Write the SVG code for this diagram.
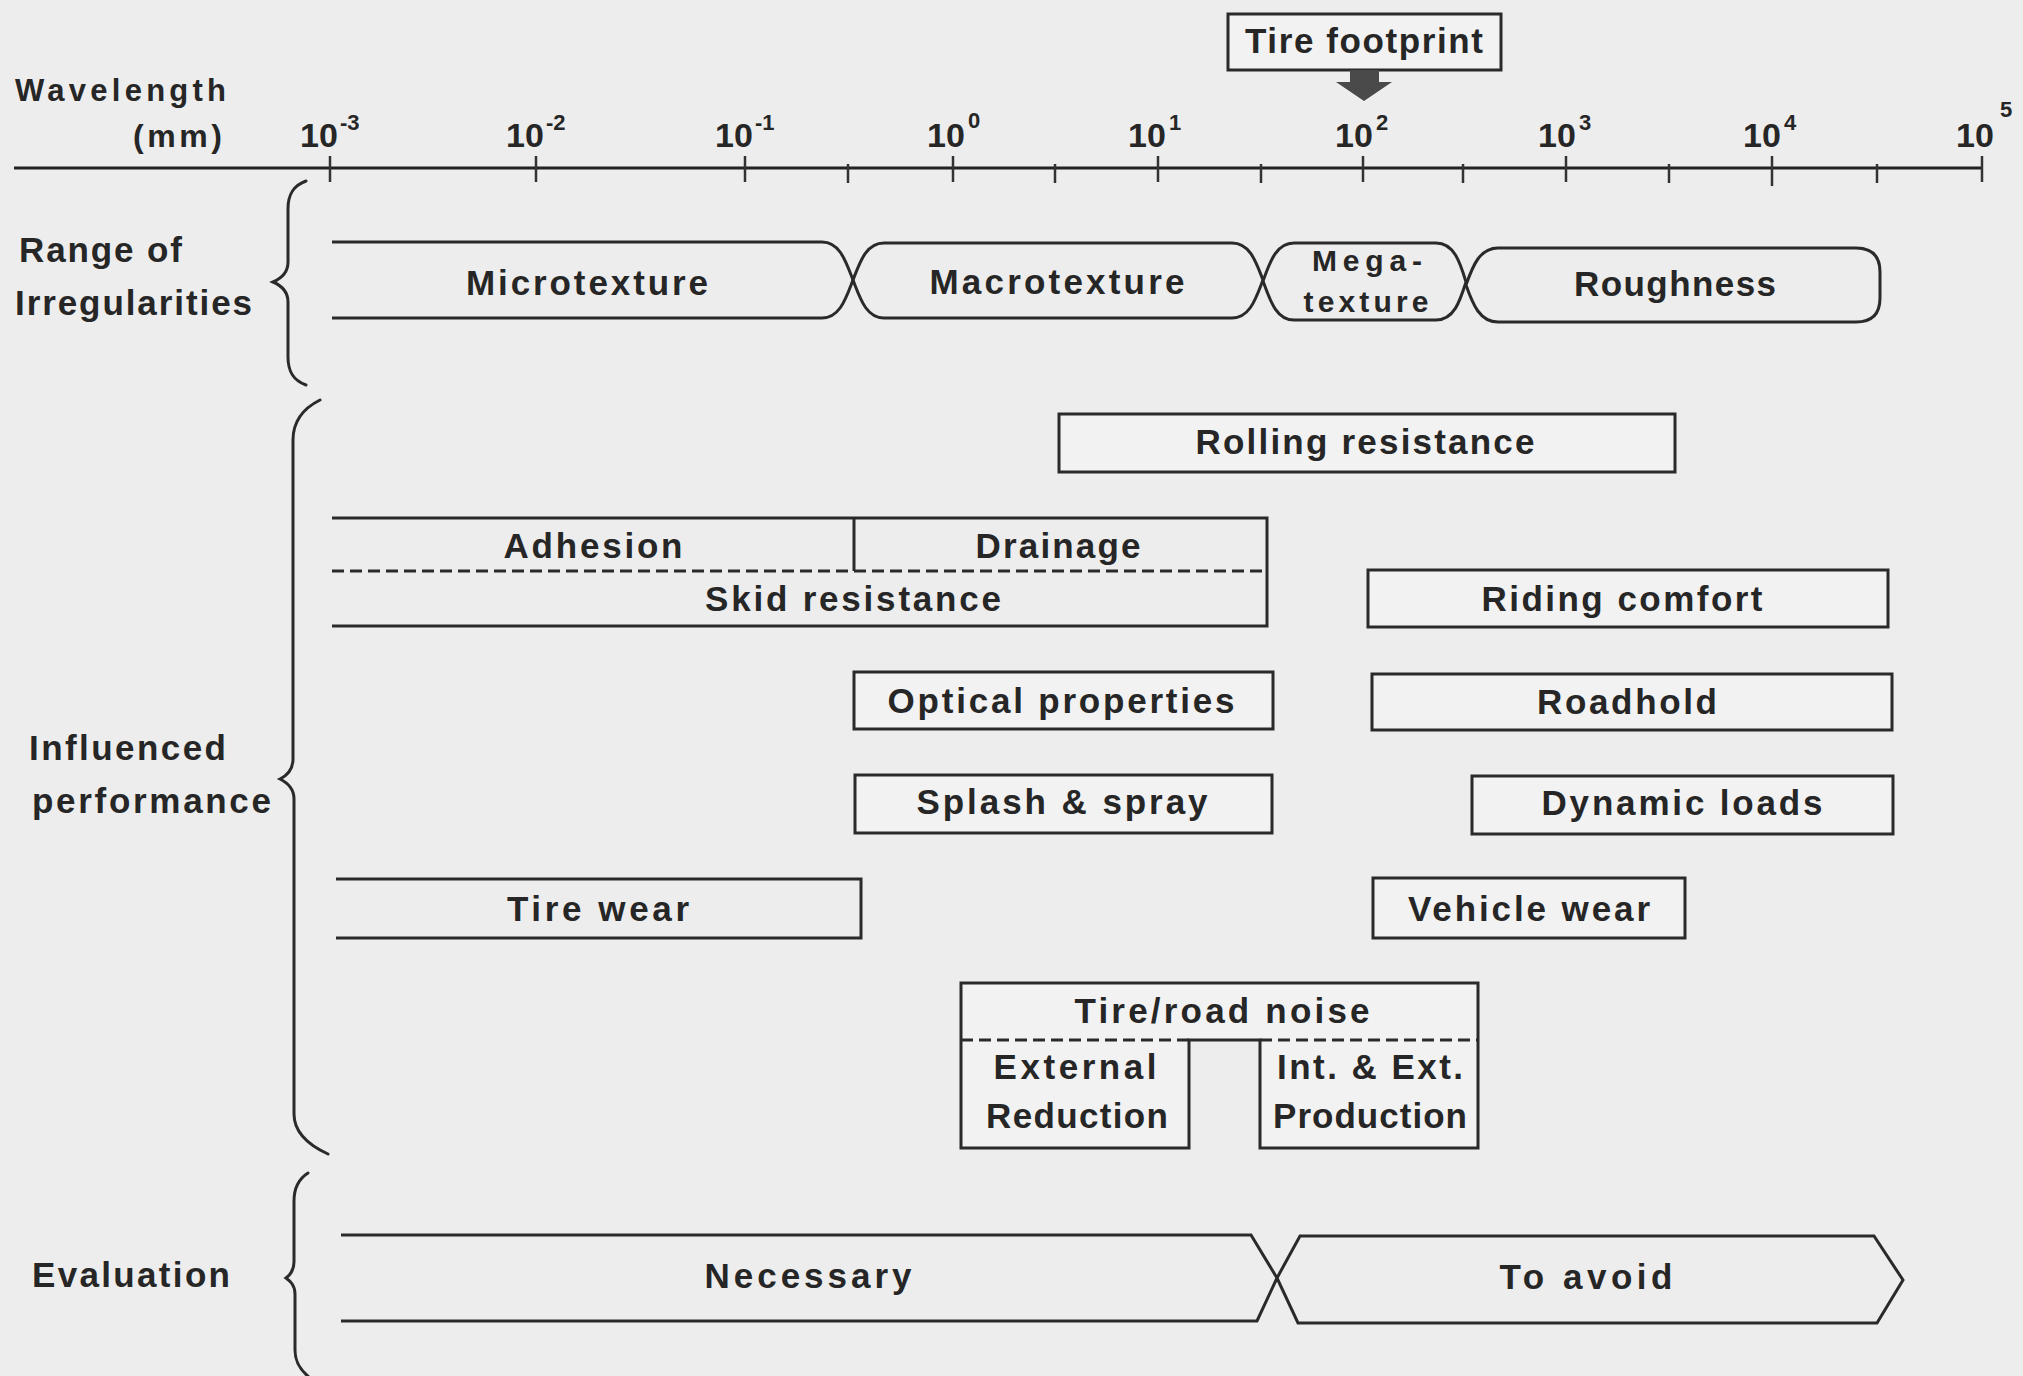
<svg xmlns="http://www.w3.org/2000/svg" width="2023" height="1376" viewBox="0 0 2023 1376">
<defs>
<style>
.bg{fill:#ededed}
.box{fill:#f2f2f2;stroke:#2a2a2a;stroke-width:3}
.open{fill:none;stroke:#2a2a2a;stroke-width:3}
.dash{fill:none;stroke:#2a2a2a;stroke-width:3;stroke-dasharray:12 6}
.brace{fill:none;stroke:#2a2a2a;stroke-width:3;stroke-linecap:round}
.axis{stroke:#222;stroke-width:3}
.tick{stroke:#333;stroke-width:2.5}
.t{font-family:"Liberation Sans",Arial,sans-serif;font-weight:bold;font-size:35px;fill:#262626;text-anchor:middle}
.l{font-family:"Liberation Sans",Arial,sans-serif;font-weight:bold;font-size:35px;fill:#262626;text-anchor:start}
.num{font-family:"Liberation Sans",Arial,sans-serif;font-weight:bold;font-size:34px;fill:#262626}
.sup{font-family:"Liberation Sans",Arial,sans-serif;font-weight:bold;font-size:22px;fill:#262626}
</style>
</defs>
<rect class="bg" x="0" y="0" width="2023" height="1376"/>

<g id="axis">
<line class="axis" x1="14" y1="168" x2="1982" y2="168"/>
<g class="tick">
<line x1="330" y1="156" x2="330" y2="182"/>
<line x1="536" y1="156" x2="536" y2="182"/>
<line x1="745" y1="156" x2="745" y2="182"/>
<line x1="953" y1="156" x2="953" y2="182"/>
<line x1="1158" y1="156" x2="1158" y2="182"/>
<line x1="1363" y1="156" x2="1363" y2="182"/>
<line x1="1566" y1="156" x2="1566" y2="182"/>
<line x1="1772" y1="156" x2="1772" y2="186"/>
<line x1="1982" y1="156" x2="1982" y2="182"/>
<line x1="848" y1="164" x2="848" y2="183"/>
<line x1="1055" y1="164" x2="1055" y2="183"/>
<line x1="1261" y1="164" x2="1261" y2="183"/>
<line x1="1463" y1="164" x2="1463" y2="183"/>
<line x1="1669" y1="164" x2="1669" y2="183"/>
<line x1="1877" y1="164" x2="1877" y2="183"/>
</g>
<text class="l" x="15" y="101" style="font-size:31px" textLength="211" lengthAdjust="spacing">Wavelength</text>
<text class="l" x="133" y="147" style="font-size:32px" textLength="89" lengthAdjust="spacing">(mm)</text>
<text class="num" x="300" y="147">10</text><text class="sup" x="340" y="130">-3</text>
<text class="num" x="506" y="147">10</text><text class="sup" x="546" y="130">-2</text>
<text class="num" x="715" y="147">10</text><text class="sup" x="755" y="130">-1</text>
<text class="num" x="927" y="147">10</text><text class="sup" x="968" y="128">0</text>
<text class="num" x="1128" y="147">10</text><text class="sup" x="1169" y="130">1</text>
<text class="num" x="1335" y="147">10</text><text class="sup" x="1376" y="130">2</text>
<text class="num" x="1538" y="147">10</text><text class="sup" x="1579" y="130">3</text>
<text class="num" x="1743" y="147">10</text><text class="sup" x="1784" y="130">4</text>
<text class="num" x="1956" y="147">10</text><text class="sup" x="2000" y="117">5</text>
</g>

<g id="tire-footprint">
<rect class="box" x="1228" y="14" width="273" height="56"/>
<text class="t" x="1364" y="53" textLength="238" lengthAdjust="spacing">Tire footprint</text>
</g>

<g id="label-range">
<text class="l" x="19" y="262" textLength="163" lengthAdjust="spacing">Range of</text>
<text class="l" x="15" y="315" textLength="237" lengthAdjust="spacing">Irregularities</text>
</g>
<g id="label-performance">
<text class="l" x="29" y="760" textLength="197" lengthAdjust="spacing">Influenced</text>
<text class="l" x="32" y="813" textLength="239" lengthAdjust="spacing">performance</text>
</g>
<g id="label-evaluation">
<text class="l" x="32" y="1287" textLength="198" lengthAdjust="spacing">Evaluation</text>
</g>

<g id="braces">
<path class="brace" d="M306,181 C292,186 288,196 288,209 L288,262 C288,274 280,279 273,282 C280,285 288,290 288,302 L288,357 C288,370 292,380 306,385"/>
<path class="brace" d="M320,400 C300,410 293,424 293,440 L293,759 C293,771 286,776 280,779 C286,782 294,787 294,799 L294,1114 C294,1130 304,1143 328,1154"/>
<path class="brace" d="M308,1173 C297,1180 294,1190 294,1201 L294,1262 C294,1271 290,1275 286,1278 C290,1281 295,1285 295,1294 L295,1350 C295,1362 300,1370 310,1378"/>
</g>

<g id="microtexture">
<path class="open" d="M332,242 H822 C840,242 846,262 853,280 C846,298 840,318 822,318 H332"/>
<text class="t" x="587" y="295" textLength="242" lengthAdjust="spacing">Microtexture</text>
</g>
<g id="macrotexture">
<path class="open" d="M853,280 C860,262 866,243 884,243 H1232 C1250,243 1256,262 1263,280 C1256,298 1250,318 1232,318 H884 C866,318 860,298 853,280 Z"/>
<text class="t" x="1057" y="294" textLength="255" lengthAdjust="spacing">Macrotexture</text>
</g>
<g id="megatexture">
<path class="open" d="M1263,281 C1270,262 1276,243 1294,243 H1436 C1454,243 1460,262 1466,282 C1460,301 1454,320 1436,320 H1294 C1276,320 1270,300 1263,281 Z"/>
<text class="t" x="1367" y="271" style="font-size:30px" textLength="110" lengthAdjust="spacing">Mega-</text>
<text class="t" x="1366" y="312" style="font-size:30px" textLength="125" lengthAdjust="spacing">texture</text>
</g>
<g id="roughness">
<path class="open" d="M1466,285 C1473,265 1480,248 1498,248 H1856 Q1880,248 1880,272 V298 Q1880,322 1856,322 H1498 C1480,322 1473,305 1466,285 Z"/>
<text class="t" x="1675" y="296" textLength="202" lengthAdjust="spacing">Roughness</text>
</g>

<g id="rolling-resistance">
<rect class="box" x="1059" y="414" width="616" height="58"/>
<text class="t" x="1365" y="454" textLength="339" lengthAdjust="spacing">Rolling resistance</text>
</g>

<g id="skid-resistance">
<path class="open" d="M332,518 H1267 V626 H332"/>
<path class="dash" d="M332,571 H1267"/>
<text class="t" x="853" y="611" textLength="296" lengthAdjust="spacing">Skid resistance</text>
</g>
<g id="adhesion">
<path class="open" d="M854,518 V571"/>
<text class="t" x="593" y="558" textLength="179" lengthAdjust="spacing">Adhesion</text>
</g>
<g id="drainage">
<text class="t" x="1058" y="558" textLength="165" lengthAdjust="spacing">Drainage</text>
</g>

<g id="riding-comfort">
<rect class="box" x="1368" y="570" width="520" height="57"/>
<text class="t" x="1622" y="611" textLength="281" lengthAdjust="spacing">Riding comfort</text>
</g>
<g id="optical-properties">
<rect class="box" x="854" y="672" width="419" height="57"/>
<text class="t" x="1061" y="713" textLength="347" lengthAdjust="spacing">Optical properties</text>
</g>
<g id="roadhold">
<rect class="box" x="1372" y="674" width="520" height="56"/>
<text class="t" x="1627" y="714" textLength="180" lengthAdjust="spacing">Roadhold</text>
</g>
<g id="splash-spray">
<rect class="box" x="855" y="775" width="417" height="58"/>
<text class="t" x="1062" y="814" textLength="291" lengthAdjust="spacing">Splash &amp; spray</text>
</g>
<g id="dynamic-loads">
<rect class="box" x="1472" y="776" width="421" height="58"/>
<text class="t" x="1682" y="815" textLength="281" lengthAdjust="spacing">Dynamic loads</text>
</g>
<g id="tire-wear">
<path class="open" d="M336,879 H861 V938 H336"/>
<text class="t" x="598" y="921" textLength="182" lengthAdjust="spacing">Tire wear</text>
</g>
<g id="vehicle-wear">
<rect class="box" x="1373" y="878" width="312" height="60"/>
<text class="t" x="1529" y="921" textLength="242" lengthAdjust="spacing">Vehicle wear</text>
</g>

<g id="tire-road-noise">
<path class="box" d="M961,983 H1478 V1148 H1260 V1040 H1189 V1148 H961 Z"/>
<path class="dash" d="M961,1040 H1189 M1260,1040 H1478"/>
<text class="t" x="1222" y="1023" textLength="295" lengthAdjust="spacing">Tire/road noise</text>
</g>
<g id="external-reduction">
<text class="t" x="1075" y="1079" textLength="163" lengthAdjust="spacing">External</text>
<text class="t" x="1077" y="1128" textLength="182" lengthAdjust="spacing">Reduction</text>
</g>
<g id="int-ext-production">
<text class="t" x="1370" y="1079" textLength="186" lengthAdjust="spacing">Int. &amp; Ext.</text>
<text class="t" x="1370" y="1128" textLength="194" lengthAdjust="spacing">Production</text>
</g>

<g id="necessary">
<path class="open" d="M341,1235 H1251 L1277,1278 L1257,1321 H341"/>
<text class="t" x="808" y="1288" textLength="207" lengthAdjust="spacing">Necessary</text>
</g>
<g id="to-avoid">
<path class="open" d="M1277,1278 L1300,1236 H1874 L1903,1280 L1877,1323 H1298 Z"/>
<text class="t" x="1586" y="1289" textLength="173" lengthAdjust="spacing">To avoid</text>
</g>

<g id="connectors">
<polygon points="1350,70 1379,70 1379,82 1392,82 1364,101 1336,82 1350,82" fill="#4a4a4a"/>
</g>
</svg>
